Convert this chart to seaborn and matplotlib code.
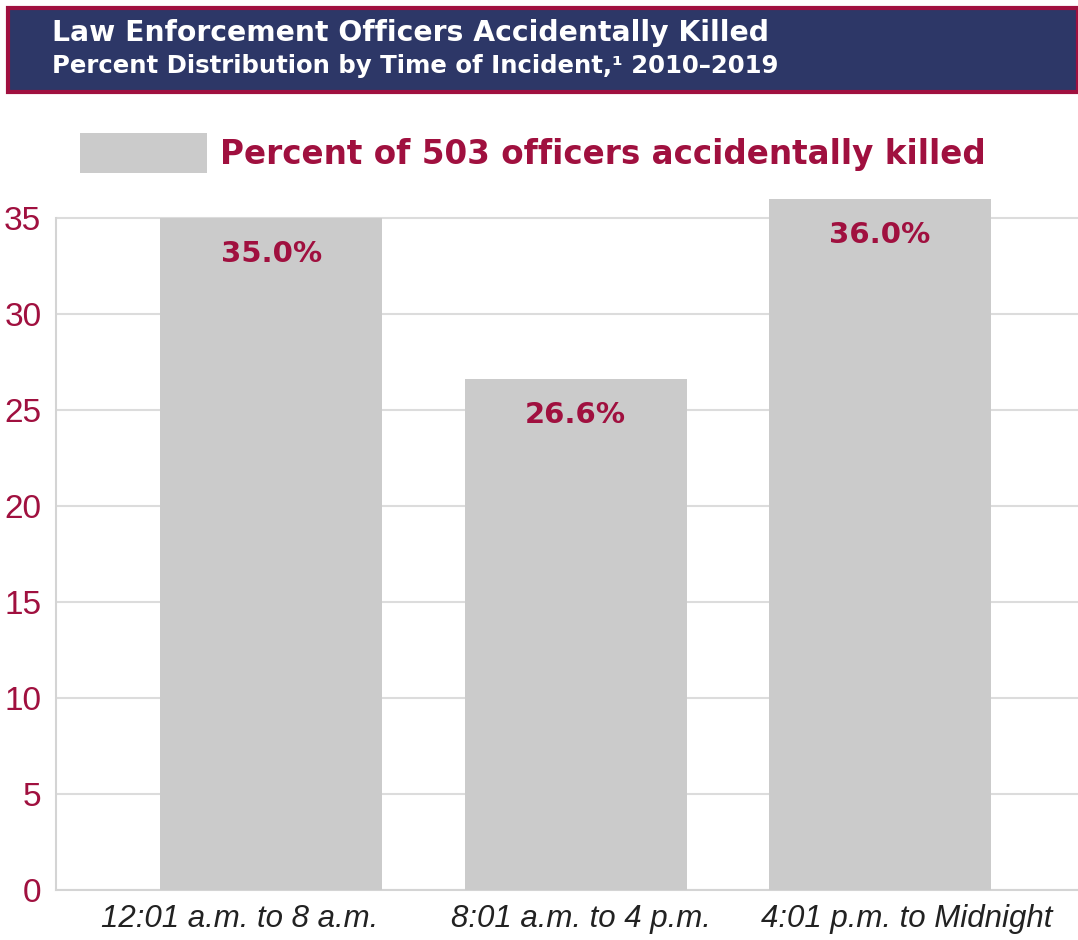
import matplotlib
matplotlib.use("Agg")
import matplotlib.pyplot as plt
from matplotlib.patches import Rectangle, Patch
from matplotlib.transforms import ScaledTranslation
import pandas as pd
import seaborn as sns

# chart data
categories = ["12:01 a.m. to 8 a.m.", "8:01 a.m. to 4 p.m.", "4:01 p.m. to Midnight"]
percents = [35.0, 26.6, 36.0]
y_ticks = [0, 5, 10, 15, 20, 25, 30, 35]
title_line1 = "Law Enforcement Officers Accidentally Killed"
title_line2 = "Percent Distribution by Time of Incident,\u00b9 2010\u20132019"
legend_label = "Percent of 503 officers accidentally killed"

CRIMSON = "#a0103f"
NAVY = "#2d3767"
BAR_GRAY = "#cbcbcb"
WIDE = ["DejaVu Sans"]

df = pd.DataFrame({"time": categories, "pct": percents})

sns.set_style("white")
plt.rcParams["font.family"] = ["Liberation Sans", "DejaVu Sans"]

fig = plt.figure(figsize=(10.78, 9.4), dpi=100)
ax = fig.add_axes([56 / 1078, 1 - 890 / 940, 1 - 56 / 1078, (890 - 190) / 940])

sns.barplot(data=df, x="time", y="pct", color=BAR_GRAY, width=0.73,
            saturation=1, linewidth=0, edgecolor="none", ax=ax, zorder=3)

ax.set_ylim(0, 700 / 19.2)
ax.set_xlim(-0.707, 2.65)
ax.set_yticks(y_ticks)
ax.yaxis.grid(True, color="#dcdcdc", linewidth=1.5, zorder=0)
ax.set_axisbelow(True)
for side in ["top", "right"]:
    ax.spines[side].set_visible(False)
ax.spines["left"].set_bounds(0, 35)
ax.spines["left"].set_color("#d4d4d4")
ax.spines["left"].set_linewidth(1.5)
ax.spines["bottom"].set_color("#d4d4d4")
ax.spines["bottom"].set_linewidth(1.5)
ax.set_xlabel("")
ax.set_ylabel("")
ax.tick_params(axis="y", length=0, pad=10.5, labelsize=24, labelcolor=CRIMSON)
ax.tick_params(axis="x", length=0, pad=10, labelsize=22.5, labelcolor="#222222")

# the original's category labels sit a little off the bar centres
label_shift_px = [-32, 5, 27]
for lbl, dx in zip(ax.get_xticklabels(), label_shift_px):
    lbl.set_fontstyle("italic")
    lbl.set_transform(lbl.get_transform() + ScaledTranslation(dx / 100, 0, fig.dpi_scale_trans))

# value labels inside bars
for i, v in enumerate(percents):
    ax.annotate(f"{v:.1f}%", xy=(i, v), xytext=(0, -26), textcoords="offset points",
                ha="center", va="center", fontsize=21, fontweight="bold",
                family=WIDE, color=CRIMSON, zorder=5)

# legend
handle = Patch(facecolor=BAR_GRAY, edgecolor="none")
leg = fig.legend([handle], [legend_label], loc="center left",
                 bbox_to_anchor=(80 / 1078, 1 - 153 / 940), frameon=False,
                 borderpad=0, borderaxespad=0, handlelength=3.9, handleheight=1.55,
                 handletextpad=0.4,
                 prop={"size": 23.5, "weight": "bold", "family": WIDE})
for t in leg.get_texts():
    t.set_color(CRIMSON)

# header banner
fig.patches.append(Rectangle((8 / 1078, 1 - 92 / 940), 1 - 8 / 1078, 84 / 940,
                             transform=fig.transFigure, facecolor=NAVY,
                             edgecolor=CRIMSON, linewidth=3))
fig.text(52 / 1078, 1 - 33 / 940, title_line1, color="white", fontsize=20.3,
         fontweight="bold", family=WIDE, va="center", ha="left")
fig.text(52 / 1078, 1 - 66 / 940, title_line2, color="white", fontsize=17.6,
         fontweight="bold", family=WIDE, va="center", ha="left")

fig.savefig("out.png", dpi=100)
